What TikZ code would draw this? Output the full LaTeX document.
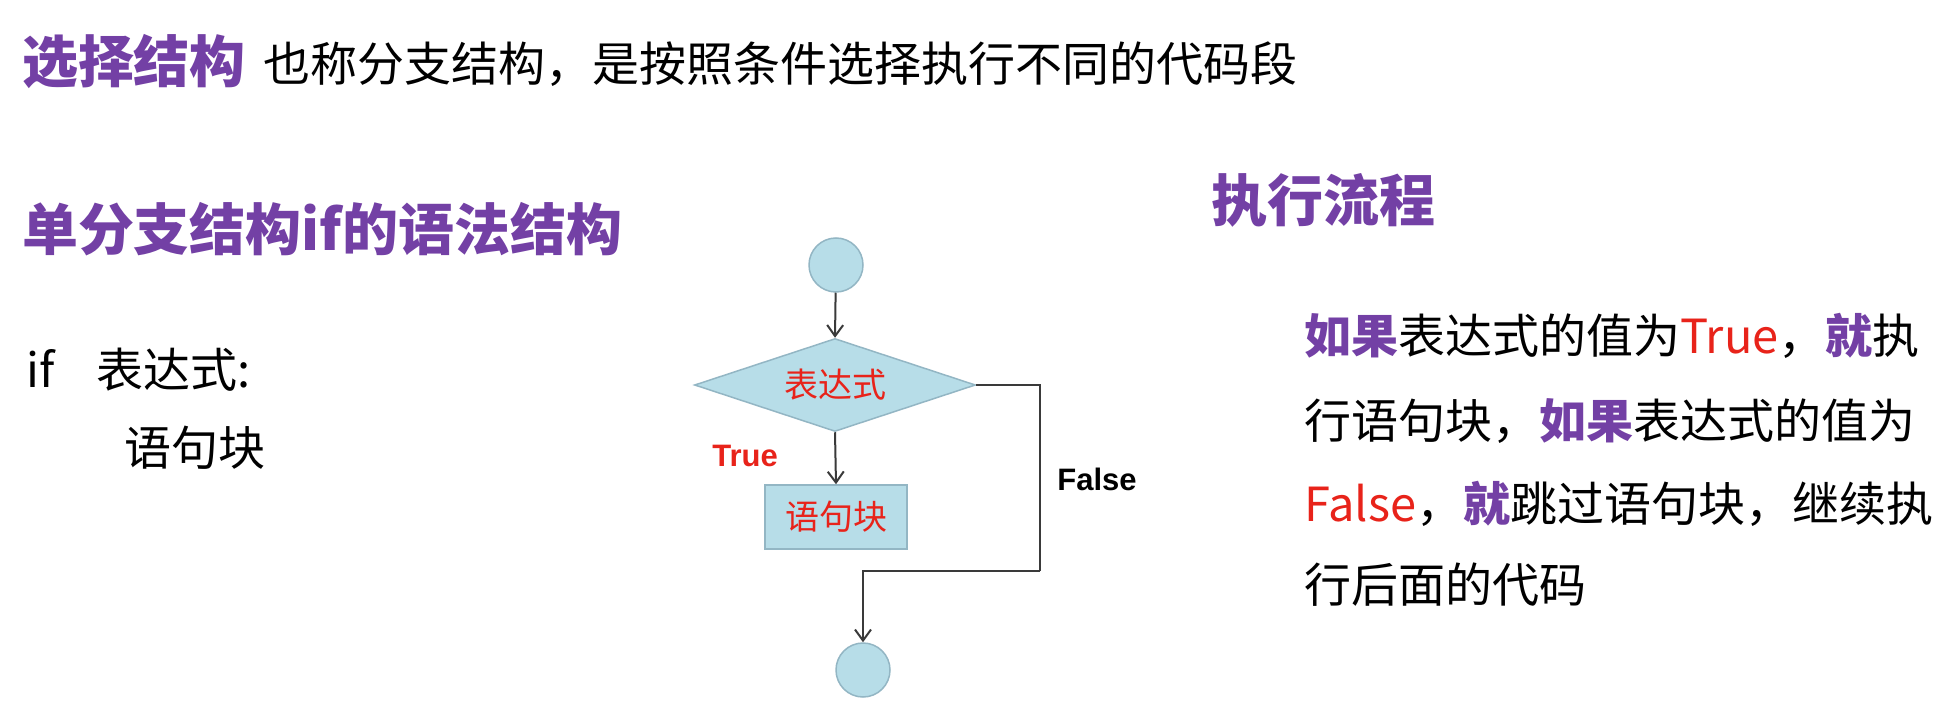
\documentclass[tikz,border=0pt]{standalone}
\usepackage{fontspec}
\setmainfont{Noto Sans CJK SC}
\newfontfamily\cjk{Noto Sans CJK SC}
\newfontfamily\arialb{Liberation Sans}
\usetikzlibrary{shapes.geometric,arrows.meta}
\definecolor{ttlpurple}{HTML}{7340A5}
\definecolor{txtred}{HTML}{E8231A}
\definecolor{flowfill}{HTML}{B7DDE8}
\definecolor{flowedge}{HTML}{93B6C4}
\definecolor{linegrey}{HTML}{3A3A3A}
\begin{document}
\begin{tikzpicture}[x=1pt,y=-1pt,
  txt/.style={anchor=base west,inner sep=0pt,outer sep=0pt},
  bigttl/.style={txt,font=\fontsize{56}{56}\selectfont\bfseries,text=ttlpurple},
  body/.style={txt,font=\fontsize{47}{47}\selectfont},
  flowshape/.style={fill=flowfill,draw=flowedge,line width=1.5pt},
  flowtxt/.style={font=\fontsize{34}{34}\selectfont,text=txtred},
  lbl/.style={inner sep=0pt,font=\fontsize{31}{31}\selectfont\arialb\bfseries},
  conn/.style={draw=linegrey,line width=2pt,-{Straight Barb[length=11pt,width=16pt,line width=2pt]}},
  plain/.style={draw=linegrey,line width=2pt}
]
\useasboundingbox[fill=white] (0,0) rectangle (1947,714);

% headings
\node[bigttl] (t1) at (22,83) {选择结构};
\node[body] (t2) at (263,82) {也称分支结构，是按照条件选择执行不同的代码段};
\node[bigttl] (h1) at (22,251) {单分支结构if的语法结构};
\node[bigttl] (h2) at (1211,222) {执行流程};

% syntax
\node[body] (s1) at (27,387) {if};
\node[body] (s2) at (96,387) {表达式:};
\node[body] (s3) at (124,465) {语句块};

% paragraph
\node[body] (p1) at (1304,353) {\textcolor{ttlpurple}{\bfseries 如果}表达式的值为\textcolor{txtred}{True}，\textcolor{ttlpurple}{\bfseries 就}执};
\node[body] (p2) at (1304,438) {行语句块，\textcolor{ttlpurple}{\bfseries 如果}表达式的值为};
\node[body] (p3) at (1304,521) {\textcolor{txtred}{False}，\textcolor{ttlpurple}{\bfseries 就}跳过语句块，继续执};
\node[body] (p4) at (1304,602) {行后面的代码};

% flowchart
\node[circle,flowshape,minimum size=54pt,inner sep=0pt] (start) at (836,265) {};
\node[diamond,shape aspect=3,flowshape,minimum width=281pt,minimum height=93pt,inner sep=0pt,flowtxt] (cond) at (835,385) {表达式};
\node[rectangle,flowshape,minimum width=142pt,minimum height=64pt,inner sep=0pt,flowtxt] (blk) at (836,517) {语句块};
\node[circle,flowshape,minimum size=54pt,inner sep=0pt] (stop) at (863,670) {};
\coordinate (turn) at (1040,571);

\draw[conn] (start) -- (cond.north);
\draw[conn] (cond.south) -- (blk.north);
\draw[plain] (cond.east) -| (turn);
\draw[conn] (turn) -| (stop.north);

\node[lbl,text=txtred] (tl) at (745,456) {True};
\node[lbl,text=black] (fl) at (1097,479) {False};
\end{tikzpicture}
\end{document}
